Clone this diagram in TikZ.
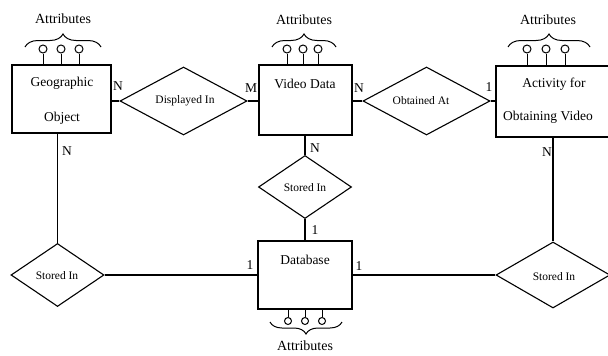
\documentclass[tikz,border=0pt]{standalone}
\usepackage{fontspec}
\setmainfont{Liberation Serif}
\usetikzlibrary{shapes.geometric,decorations.pathreplacing}
\begin{document}
\begin{tikzpicture}[x=1pt,y=-1pt,line width=1.1pt,
  entity/.style={draw,rectangle,inner sep=0pt},
  rel/.style={draw,diamond,inner sep=0pt,aspect=2},
  etext/.style={font=\fontsize{13.5}{15}\selectfont,inner sep=0pt},
  rtext/.style={font=\fontsize{11.5}{13}\selectfont,inner sep=0pt},
  card/.style={font=\fontsize{13.5}{15}\selectfont,inner sep=0pt},
  attr/.style={font=\fontsize{14}{16}\selectfont,inner sep=0pt},
  ball/.style={draw,circle,inner sep=0pt,minimum size=8pt,line width=1pt},
  sball/.style={draw,circle,inner sep=0pt,minimum size=7pt,line width=1pt},
  bracetop/.style={decorate,decoration={brace,amplitude=13pt},line width=1pt},
  bracebot/.style={decorate,decoration={brace,amplitude=12pt,mirror},line width=1pt}]
\clip (0,0) rectangle (608,356);
% entities
\node[entity,minimum width=99pt,minimum height=68pt] (geo) at (61.5,99) {};
\node[etext] (geot1) at (62,83) {Geographic};
\node[etext] (geot2) at (62,118) {Object};
\node[entity,minimum width=93pt,minimum height=70pt] (vid) at (305.5,100) {};
\node[etext] (vidt) at (305,84) {Video Data};
\node[entity,minimum width=118pt,minimum height=71pt] (act) at (555,101.5) {};
\node[etext] (actt1) at (554,84) {Activity for};
\node[etext] (actt2) at (548,117) {Obtaining Video};
\node[entity,minimum width=94pt,minimum height=68pt] (db) at (305,275) {};
\node[etext] (dbt) at (305,260) {Database};
% relationships
\node[rel,minimum width=127pt,minimum height=68pt] (disp) at (183.5,101) {};
\node[rtext] (dispt) at (185,101) {Displayed In};
\node[rel,minimum width=127pt,minimum height=68pt] (obt) at (426.5,101) {};
\node[rtext] (obtt) at (421,101) {Obtained At};
\node[rel,minimum width=93pt,minimum height=63pt] (mst) at (305,187) {};
\node[rtext] (mstt) at (305,188) {Stored In};
\node[rel,minimum width=93pt,minimum height=63pt] (lst) at (57.5,275) {};
\node[rtext] (lstt) at (57,276) {Stored In};
\node[rel,minimum width=114pt,minimum height=66pt] (rst) at (553,275) {};
\node[rtext] (rstt) at (554,277) {Stored In};
% connectors
\draw (geo.east |- disp.west) -- (disp.west);
\draw (disp.east) -- (vid.west |- disp.east);
\draw (vid.east |- obt.west) -- (obt.west);
\draw (obt.east) -- (act.west |- obt.east);
\draw (mst.north |- vid.south) -- (mst.north);
\draw (mst.south) -- (mst.south |- db.north);
\draw (lst.north |- geo.south) -- (lst.north);
\draw (lst.east) -- (db.west |- lst.east);
\draw (db.east |- rst.west) -- (rst.west);
\draw (rst.north |- act.south) -- (rst.north);
% cardinalities
\node[card] (c1) at (118,86) {N};
\node[card] (c2) at (251,88) {M};
\node[card] (c3) at (359,88) {N};
\node[card] (c4) at (489,87) {1};
\node[card] (c5) at (315,148) {N};
\node[card] (c6) at (315,230) {1};
\node[card] (c7) at (67,151) {N};
\node[card] (c8) at (547,152) {N};
\node[card] (c9) at (250,265) {1};
\node[card] (c10) at (359,266) {1};
% attributes: geographic
\node[attr] (ga) at (63,19) {Attributes};
\draw[bracetop] (25,47) -- (101,47);
\node[ball] (g1) at (43,49) {};
\node[ball] (g2) at (61,49) {};
\node[ball] (g3) at (79,49) {};
\foreach \b in {g1,g2,g3} \draw[line width=1pt] (\b.south) -- (\b.south |- geo.north);
% attributes: video
\node[attr] (va) at (304,20) {Attributes};
\draw[bracetop] (272,47) -- (336,47);
\node[ball] (v1) at (287,49) {};
\node[ball] (v2) at (303,49) {};
\node[ball] (v3) at (318,49) {};
\foreach \b in {v1,v2,v3} \draw[line width=1pt] (\b.south) -- (\b.south |- vid.north);
% attributes: activity
\node[attr] (aa) at (548,20) {Attributes};
\draw[bracetop] (508,47) -- (590,47);
\node[ball] (a1) at (527,49) {};
\node[ball] (a2) at (546,49) {};
\node[ball] (a3) at (565,49) {};
\foreach \b in {a1,a2,a3} \draw[line width=1pt] (\b.south) -- (\b.south |- act.north);
% attributes: database
\node[attr] (da) at (305,346) {Attributes};
\draw[bracebot] (270,322) -- (342,322);
\node[sball] (d1) at (288,321) {};
\node[sball] (d2) at (305,321) {};
\node[sball] (d3) at (322,321) {};
\foreach \b in {d1,d2,d3} \draw[line width=1pt] (\b.north) -- (\b.north |- db.south);
\end{tikzpicture}
\end{document}
